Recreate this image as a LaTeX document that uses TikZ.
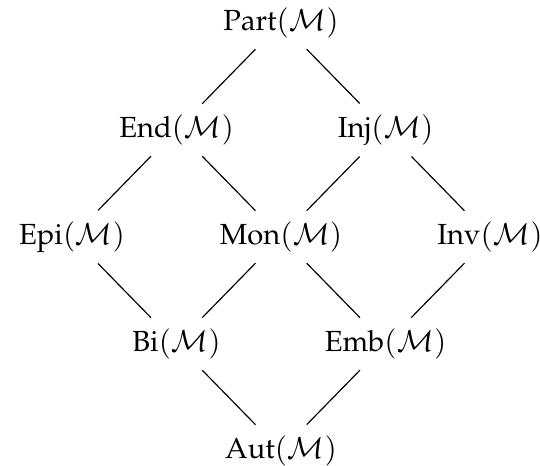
\documentclass[tikz,border=0pt]{standalone}
\usepackage[T1]{fontenc}
\usepackage{mathpazo}
\usepackage{amsmath,amssymb}
\usepackage{tikz}
\usetikzlibrary{positioning}

\newcommand{\catM}{\mathcal{M}}

\begin{document}
\begin{tikzpicture}[x=1.262cm, y=1.292cm,
  obj/.style={inner xsep=1pt, inner ysep=3.6pt},
  rel/.style={line width=0.4pt}]
\useasboundingbox (-2.690,0.215) rectangle (2.478,-4.141);
% the lattice, top to bottom
\node[obj] (part) at (0,0)  {Part$(\catM)$};
\node[obj] (end)  at (-1,-1) {End$(\catM)$};
\node[obj] (inj)  at (1,-1)  {Inj$(\catM)$};
\node[obj] (epi)  at (-2,-2) {Epi$(\catM)$};
\node[obj] (mon)  at (0,-2)  {Mon$(\catM)$};
\node[obj] (inv)  at (2,-2)  {Inv$(\catM)$};
\node[obj] (bi)   at (-1,-3) {Bi$(\catM)$};
\node[obj] (emb)  at (1,-3)  {Emb$(\catM)$};
\node[obj] (aut)  at (0,-4)  {Aut$(\catM)$};
% covering relations
\foreach \a/\b in {part/end, part/inj, end/epi, end/mon, inj/mon, inj/inv,
                   epi/bi, mon/bi, mon/emb, inv/emb, bi/aut, emb/aut}{
  \draw[rel] (\a) -- (\b);
}
\end{tikzpicture}
\end{document}
